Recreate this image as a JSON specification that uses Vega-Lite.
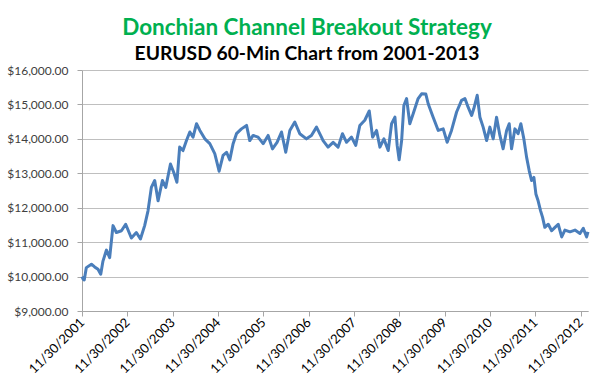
{
  "$schema": "https://vega.github.io/schema/vega-lite/v6.json",
  "width": 506,
  "height": 241,
  "autosize": "none",
  "padding": {"left": 82, "top": 70, "right": 27, "bottom": 73},
  "background": "#ffffff",
  "title": {
    "text": "Donchian Channel Breakout Strategy",
    "subtitle": "EURUSD 60-Min Chart from 2001-2013",
    "font": "Lato",
    "fontSize": 22.5,
    "fontWeight": "bold",
    "color": "#00B050",
    "subtitleFont": "Lato",
    "subtitleFontSize": 19.3,
    "subtitleFontWeight": "bold",
    "subtitleColor": "#000000",
    "subtitlePadding": 5,
    "anchor": "middle",
    "dx": -28,
    "offset": 0
  },
  "data": {
    "values": [
      {"date": "2001-11-30", "value": 10000},
      {"date": "2001-12-10", "value": 9920},
      {"date": "2001-12-18", "value": 9900},
      {"date": "2002-01-04", "value": 10260},
      {"date": "2002-02-14", "value": 10360},
      {"date": "2002-03-12", "value": 10280},
      {"date": "2002-04-08", "value": 10210},
      {"date": "2002-04-30", "value": 10070},
      {"date": "2002-05-18", "value": 10450},
      {"date": "2002-06-15", "value": 10770},
      {"date": "2002-07-11", "value": 10550},
      {"date": "2002-08-07", "value": 11480},
      {"date": "2002-09-03", "value": 11280},
      {"date": "2002-10-14", "value": 11330},
      {"date": "2002-11-17", "value": 11520},
      {"date": "2003-01-02", "value": 11120},
      {"date": "2003-02-11", "value": 11280},
      {"date": "2003-03-16", "value": 11090},
      {"date": "2003-04-19", "value": 11480},
      {"date": "2003-05-16", "value": 11910},
      {"date": "2003-06-12", "value": 12590},
      {"date": "2003-07-09", "value": 12790},
      {"date": "2003-08-05", "value": 12200},
      {"date": "2003-09-09", "value": 12790},
      {"date": "2003-10-06", "value": 12590},
      {"date": "2003-11-13", "value": 13270},
      {"date": "2003-12-09", "value": 13030},
      {"date": "2004-01-04", "value": 12740},
      {"date": "2004-01-26", "value": 13760},
      {"date": "2004-02-22", "value": 13660},
      {"date": "2004-03-21", "value": 13950},
      {"date": "2004-04-17", "value": 14200},
      {"date": "2004-05-13", "value": 14050},
      {"date": "2004-06-10", "value": 14440},
      {"date": "2004-07-07", "value": 14245},
      {"date": "2004-08-16", "value": 14000},
      {"date": "2004-09-25", "value": 13860},
      {"date": "2004-11-04", "value": 13570},
      {"date": "2004-12-09", "value": 13060},
      {"date": "2005-01-10", "value": 13520},
      {"date": "2005-02-07", "value": 13610},
      {"date": "2005-03-05", "value": 13390},
      {"date": "2005-04-01", "value": 13860},
      {"date": "2005-04-28", "value": 14150},
      {"date": "2005-06-07", "value": 14290},
      {"date": "2005-07-18", "value": 14390},
      {"date": "2005-08-13", "value": 13950},
      {"date": "2005-09-09", "value": 14100},
      {"date": "2005-10-19", "value": 14050},
      {"date": "2005-11-29", "value": 13860},
      {"date": "2006-01-08", "value": 14100},
      {"date": "2006-02-12", "value": 13710},
      {"date": "2006-03-21", "value": 13900},
      {"date": "2006-04-26", "value": 14200},
      {"date": "2006-05-30", "value": 13610},
      {"date": "2006-07-02", "value": 14245},
      {"date": "2006-08-11", "value": 14490},
      {"date": "2006-09-20", "value": 14150},
      {"date": "2006-11-13", "value": 14000},
      {"date": "2006-12-23", "value": 14100},
      {"date": "2007-02-02", "value": 14340},
      {"date": "2007-03-14", "value": 14050},
      {"date": "2007-03-27", "value": 13950},
      {"date": "2007-05-06", "value": 13760},
      {"date": "2007-06-16", "value": 13900},
      {"date": "2007-07-26", "value": 13760},
      {"date": "2007-08-30", "value": 14150},
      {"date": "2007-10-02", "value": 13900},
      {"date": "2007-11-11", "value": 14050},
      {"date": "2007-12-15", "value": 13810},
      {"date": "2008-01-17", "value": 14390},
      {"date": "2008-02-26", "value": 14540},
      {"date": "2008-04-02", "value": 14810},
      {"date": "2008-04-29", "value": 14050},
      {"date": "2008-05-31", "value": 14245},
      {"date": "2008-06-27", "value": 13760},
      {"date": "2008-07-29", "value": 14000},
      {"date": "2008-09-02", "value": 13660},
      {"date": "2008-09-29", "value": 14440},
      {"date": "2008-10-26", "value": 14630},
      {"date": "2008-11-13", "value": 13810},
      {"date": "2008-11-29", "value": 13390},
      {"date": "2008-12-19", "value": 13950},
      {"date": "2009-01-06", "value": 14970},
      {"date": "2009-01-28", "value": 15170},
      {"date": "2009-02-23", "value": 14440},
      {"date": "2009-03-22", "value": 14730},
      {"date": "2009-05-01", "value": 15170},
      {"date": "2009-05-29", "value": 15310},
      {"date": "2009-07-02", "value": 15300},
      {"date": "2009-07-21", "value": 15020},
      {"date": "2009-08-30", "value": 14630},
      {"date": "2009-10-10", "value": 14245},
      {"date": "2009-11-19", "value": 14290},
      {"date": "2009-12-21", "value": 13900},
      {"date": "2010-01-25", "value": 14245},
      {"date": "2010-03-07", "value": 14780},
      {"date": "2010-04-16", "value": 15120},
      {"date": "2010-05-13", "value": 15170},
      {"date": "2010-06-08", "value": 14920},
      {"date": "2010-07-06", "value": 14680},
      {"date": "2010-07-24", "value": 14880},
      {"date": "2010-08-20", "value": 15265},
      {"date": "2010-09-11", "value": 14630},
      {"date": "2010-10-07", "value": 14340},
      {"date": "2010-11-04", "value": 13950},
      {"date": "2010-11-30", "value": 14340},
      {"date": "2010-12-27", "value": 14000},
      {"date": "2011-01-23", "value": 14630},
      {"date": "2011-02-19", "value": 14100},
      {"date": "2011-03-17", "value": 13710},
      {"date": "2011-04-14", "value": 14245},
      {"date": "2011-05-05", "value": 14440},
      {"date": "2011-05-24", "value": 13710},
      {"date": "2011-06-20", "value": 14290},
      {"date": "2011-07-16", "value": 14150},
      {"date": "2011-08-07", "value": 14440},
      {"date": "2011-08-31", "value": 14000},
      {"date": "2011-09-22", "value": 13470},
      {"date": "2011-10-13", "value": 13080},
      {"date": "2011-11-01", "value": 12790},
      {"date": "2011-11-20", "value": 12880},
      {"date": "2011-12-06", "value": 12400},
      {"date": "2011-12-24", "value": 12200},
      {"date": "2012-01-13", "value": 11910},
      {"date": "2012-01-29", "value": 11720},
      {"date": "2012-02-16", "value": 11430},
      {"date": "2012-03-15", "value": 11520},
      {"date": "2012-04-11", "value": 11330},
      {"date": "2012-05-08", "value": 11430},
      {"date": "2012-06-03", "value": 11520},
      {"date": "2012-07-01", "value": 11150},
      {"date": "2012-07-27", "value": 11350},
      {"date": "2012-09-06", "value": 11300},
      {"date": "2012-10-16", "value": 11350},
      {"date": "2012-11-25", "value": 11250},
      {"date": "2012-12-22", "value": 11400},
      {"date": "2013-01-18", "value": 11150},
      {"date": "2013-01-29", "value": 11300}
    ]
  },
  "mark": {"type": "line", "color": "#4A7EBB", "strokeWidth": 3, "strokeJoin": "round"},
  "encoding": {
    "x": {
      "field": "date",
      "type": "temporal",
      "scale": {
        "type": "utc",
        "domain": [
          {"year": 2001, "month": 11, "date": 30, "utc": true},
          {"year": 2013, "month": 1, "date": 29, "utc": true}
        ]
      },
      "axis": {
        "title": null,
        "grid": false,
        "format": "%m/%d/%Y",
        "values": [
          {"year": 2001, "month": 11, "date": 30, "utc": true},
          {"year": 2002, "month": 11, "date": 30, "utc": true},
          {"year": 2003, "month": 11, "date": 30, "utc": true},
          {"year": 2004, "month": 11, "date": 30, "utc": true},
          {"year": 2005, "month": 11, "date": 30, "utc": true},
          {"year": 2006, "month": 11, "date": 30, "utc": true},
          {"year": 2007, "month": 11, "date": 30, "utc": true},
          {"year": 2008, "month": 11, "date": 30, "utc": true},
          {"year": 2009, "month": 11, "date": 30, "utc": true},
          {"year": 2010, "month": 11, "date": 30, "utc": true},
          {"year": 2011, "month": 11, "date": 30, "utc": true},
          {"year": 2012, "month": 11, "date": 30, "utc": true}
        ],
        "labelAngle": -45,
        "labelAlign": "right",
        "labelBaseline": "middle",
        "labelFont": "Lato",
        "labelFontSize": 13,
        "labelColor": "#000000",
        "labelPadding": 4,
        "labelOverlap": false,
        "labelFlush": false,
        "tickColor": "#A6A6A6",
        "tickSize": 5,
        "domainColor": "#A6A6A6"
      }
    },
    "y": {
      "field": "value",
      "type": "quantitative",
      "scale": {"domain": [9000, 16000], "nice": false, "zero": false},
      "axis": {
        "title": null,
        "values": [9000, 10000, 11000, 12000, 13000, 14000, 15000, 16000],
        "format": "$,.2f",
        "labelFont": "Lato",
        "labelFontSize": 12,
        "labelColor": "#404040",
        "labelPadding": 9,
        "tickColor": "#A6A6A6",
        "tickSize": 5,
        "domainColor": "#A6A6A6",
        "gridColor": "#BFBFBF",
        "gridWidth": 1
      }
    }
  },
  "config": {
    "view": {"stroke": null}
  }
}
